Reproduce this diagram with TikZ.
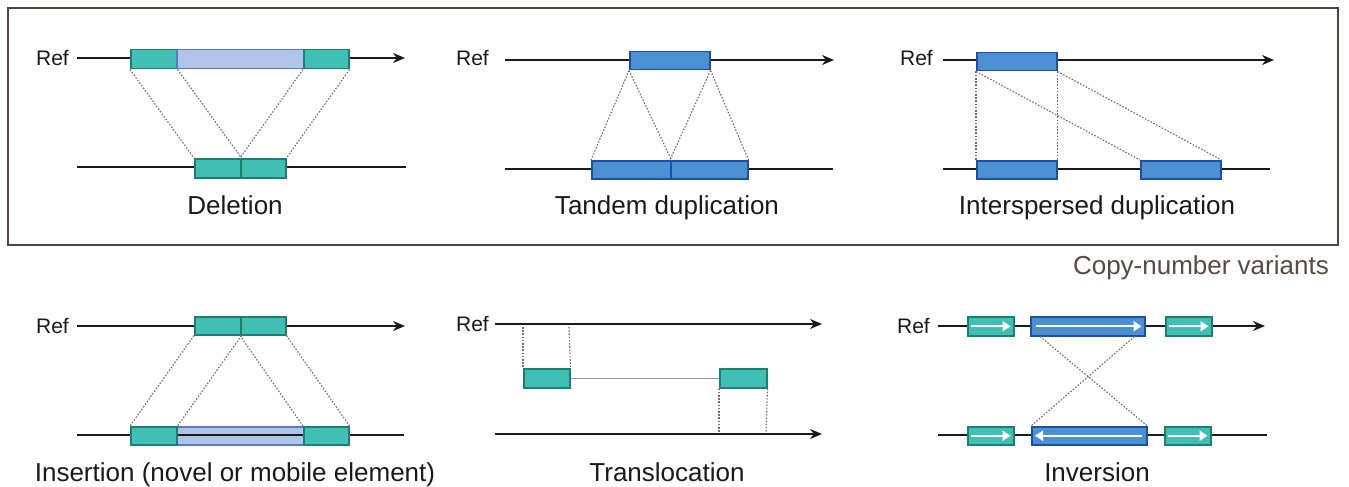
\documentclass[tikz,border=0pt]{standalone}
\usepackage{fontspec}
\setmainfont{Liberation Sans}
\usetikzlibrary{arrows.meta}
\definecolor{tealfill}{HTML}{40C0B4}
\definecolor{tealedge}{HTML}{1E7E70}
\definecolor{bluefill}{HTML}{4A90D2}
\definecolor{blueedge}{HTML}{1E4FA0}
\definecolor{lbfill}{HTML}{B0C4E8}
\definecolor{lbedge}{HTML}{5A78C4}
\definecolor{framecol}{HTML}{4F4540}
\definecolor{cnvcol}{HTML}{5A4A44}
\definecolor{txtcol}{HTML}{1A1A1A}
\definecolor{dotcol}{HTML}{6E6E6E}
\tikzset{
  seg/.style={rectangle, inner sep=0pt, anchor=north west, line width=1.5pt},
  tealbox/.style={seg, fill=tealfill, draw=tealedge},
  bluebox/.style={seg, fill=bluefill, draw=blueedge},
  lbbox/.style={seg, fill=lbfill, draw=lbedge},
  chrom/.style={line width=2pt, draw=txtcol},
  chromarrow/.style={chrom, -{Stealth[length=12pt,width=10pt]}},
  link/.style={draw=dotcol, line width=1.1pt, dash pattern=on 1.6pt off 1.6pt},
  reflabel/.style={anchor=base east, inner sep=0pt, text=txtcol, font=\fontsize{21}{25}\selectfont},
  caption/.style={anchor=base, inner sep=0pt, text=txtcol, font=\fontsize{26}{30}\selectfont},
  whitearrow/.style={draw=white, line width=2.4pt, -{Triangle[length=8pt,width=10pt]}}
}
\begin{document}
\begin{tikzpicture}[x=1pt,y=-1pt]
\useasboundingbox (0,0) rectangle (1349,487);
\fill[white] (0,0) rectangle (1349,487);
% frame
\draw[framecol, line width=2.2pt] (8,8) rectangle (1338,245);
\node[anchor=base east, inner sep=0pt, text=cnvcol, font=\fontsize{26}{30}\selectfont] (cnv) at (1329,274) {Copy-number variants};

% ===== Deletion =====
\coordinate (dAs) at (77,58); \coordinate (dAe) at (405,58);
\coordinate (dBs) at (77,167); \coordinate (dBe) at (406,167);
\draw[chromarrow] (dAs) -- (dAe);
\draw[chrom] (dBs) -- (dBe);
\node[reflabel] (dref) at (69,66) {Ref};
\node[tealbox, minimum width=46pt, minimum height=19pt] (dA1) at (130,49) {};
\node[lbbox, minimum width=127pt, minimum height=19pt] (dA2) at (176,49) {};
\node[tealbox, minimum width=45pt, minimum height=19pt] (dA3) at (303,49) {};
\node[tealbox, minimum width=46pt, minimum height=19pt] (dB1) at (194,158) {};
\node[tealbox, minimum width=45pt, minimum height=19pt] (dB2) at (240,158) {};
\draw[link] (dA1.south west) -- (dB1.north west);
\draw[link] (dA1.south east) -- (dB1.north east);
\draw[link] (dA3.south west) -- (dB2.north west);
\draw[link] (dA3.south east) -- (dB2.north east);
\node[caption] (dcap) at (235,214) {Deletion};

% ===== Tandem duplication =====
\coordinate (tAs) at (505,60); \coordinate (tAe) at (834,60);
\coordinate (tBs) at (505,169); \coordinate (tBe) at (833,169);
\draw[chromarrow] (tAs) -- (tAe);
\draw[chrom] (tBs) -- (tBe);
\node[reflabel] (tref) at (489,66) {Ref};
\node[bluebox, minimum width=80pt, minimum height=18pt] (tA1) at (629,51) {};
\node[bluebox, minimum width=79pt, minimum height=18pt] (tB1) at (591,160) {};
\node[bluebox, minimum width=77pt, minimum height=18pt] (tB2) at (670,160) {};
\draw[link] (tA1.south west) -- (tB1.north west);
\draw[link] (tA1.south west) -- (tB1.north east);
\draw[link] (tA1.south east) -- (tB2.north west);
\draw[link] (tA1.south east) -- (tB2.north east);
\node[caption] (tcap) at (667,214) {Tandem duplication};

% ===== Interspersed duplication =====
\coordinate (iAs) at (943,60); \coordinate (iAe) at (1274,60);
\coordinate (iBs) at (943,169); \coordinate (iBe) at (1270,169);
\draw[chromarrow] (iAs) -- (iAe);
\draw[chrom] (iBs) -- (iBe);
\node[reflabel] (iref) at (933,66) {Ref};
\node[bluebox, minimum width=80pt, minimum height=18pt] (iA1) at (976,52) {};
\node[bluebox, minimum width=80pt, minimum height=18pt] (iB1) at (976,160) {};
\node[bluebox, minimum width=80pt, minimum height=18pt] (iB2) at (1140,160) {};
\draw[link] (iA1.south west) -- (iB1.north west);
\draw[link] (iA1.south east) -- (iB1.north east);
\draw[link] (iA1.south west) -- (iB2.north west);
\draw[link] (iA1.south east) -- (iB2.north east);
\node[caption] (icap) at (1097,214) {Interspersed duplication};

% ===== Insertion =====
\coordinate (nAs) at (77,326); \coordinate (nAe) at (405,326);
\coordinate (nBs) at (77,435); \coordinate (nBe) at (404,435);
\draw[chromarrow] (nAs) -- (nAe);
\node[reflabel] (nref) at (69,333) {Ref};
\node[tealbox, minimum width=46pt, minimum height=18pt] (nA1) at (194,316) {};
\node[tealbox, minimum width=45pt, minimum height=18pt] (nA2) at (240,316) {};
\node[lbbox, minimum width=127pt, minimum height=18pt] (nB2) at (176,426) {};
\draw[chrom] (nBs) -- (nBe);
\node[tealbox, minimum width=46pt, minimum height=18pt] (nB1) at (130,426) {};
\node[tealbox, minimum width=45pt, minimum height=18pt] (nB3) at (303,426) {};
\draw[link] (nA1.south west) -- (nB1.north west);
\draw[link] (nA1.south east) -- (nB1.north east);
\draw[link] (nA2.south west) -- (nB3.north west);
\draw[link] (nA2.south east) -- (nB3.north east);
\node[caption] (ncap) at (235,481) {Insertion (novel or mobile element)};

% ===== Translocation =====
\coordinate (rAs) at (495,324); \coordinate (rAe) at (822,324);
\coordinate (rBs) at (495,434); \coordinate (rBe) at (822,434);
\draw[chromarrow] (rAs) -- (rAe);
\draw[chromarrow] (rBs) -- (rBe);
\node[reflabel] (rref) at (489,331) {Ref};
\node[tealbox, minimum width=46pt, minimum height=19pt] (rM1) at (523,368) {};
\node[tealbox, minimum width=47pt, minimum height=19pt] (rM2) at (719,368) {};
\draw[draw=gray!80, line width=1.2pt] (rM1.east) -- (rM2.west);
\coordinate (rt1) at (523,327); \coordinate (rt2) at (569,327);
\coordinate (rb1) at (719,433); \coordinate (rb2) at (766,433);
\draw[link] (rt1) -- (rM1.north west);
\draw[link] (rt2) -- (rM1.north east);
\draw[link] (rM2.south west) -- (rb1);
\draw[link] (rM2.south east) -- (rb2);
\node[caption] (rcap) at (667,481) {Translocation};

% ===== Inversion =====
\coordinate (vAs) at (938,326); \coordinate (vAe) at (1265,326);
\coordinate (vBs) at (938,435); \coordinate (vBe) at (1267,435);
\draw[chromarrow] (vAs) -- (vAe);
\draw[chrom] (vBs) -- (vBe);
\node[reflabel] (vref) at (930,333) {Ref};
\node[tealbox, minimum width=46pt, minimum height=19pt] (vA1) at (967,316) {};
\node[bluebox, minimum width=114pt, minimum height=19pt] (vA2) at (1030,316) {};
\node[tealbox, minimum width=46pt, minimum height=19pt] (vA3) at (1165,316) {};
\node[tealbox, minimum width=46pt, minimum height=18pt] (vB1) at (967,426) {};
\node[bluebox, minimum width=115pt, minimum height=18pt] (vB2) at (1031,426) {};
\node[tealbox, minimum width=46pt, minimum height=18pt] (vB3) at (1164,426) {};
\draw[whitearrow] ([xshift=4pt]vA1.west) -- ([xshift=-4pt]vA1.east);
\draw[whitearrow] ([xshift=6pt]vA2.west) -- ([xshift=-4pt]vA2.east);
\draw[whitearrow] ([xshift=4pt]vA3.west) -- ([xshift=-4pt]vA3.east);
\draw[whitearrow] ([xshift=4pt]vB1.west) -- ([xshift=-4pt]vB1.east);
\draw[whitearrow] ([xshift=-6pt]vB2.east) -- ([xshift=4pt]vB2.west);
\draw[whitearrow] ([xshift=4pt]vB3.west) -- ([xshift=-4pt]vB3.east);
\draw[link] ([xshift=10pt]vA2.south west) -- (vB2.north east);
\draw[link] ([xshift=-11pt]vA2.south east) -- (vB2.north west);
\node[caption] (vcap) at (1097,481) {Inversion};
\end{tikzpicture}
\end{document}
